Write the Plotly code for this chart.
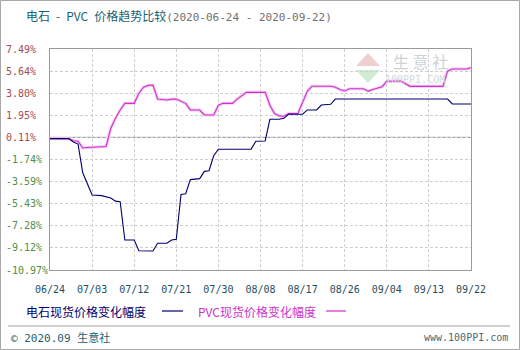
import plotly.graph_objects as go

# ---------------- data ----------------
carbide_dates = ["2020-06-24", "2020-06-28", "2020-06-29", "2020-06-30", "2020-07-01", "2020-07-02",
                 "2020-07-03", "2020-07-05", "2020-07-07", "2020-07-08", "2020-07-09", "2020-07-10",
                 "2020-07-12", "2020-07-13", "2020-07-16", "2020-07-17", "2020-07-19", "2020-07-20",
                 "2020-07-21", "2020-07-22", "2020-07-23", "2020-07-24", "2020-07-26", "2020-07-27",
                 "2020-07-28", "2020-07-29", "2020-07-30", "2020-08-06", "2020-08-07", "2020-08-09",
                 "2020-08-10", "2020-08-12", "2020-08-13", "2020-08-14", "2020-08-17", "2020-08-18",
                 "2020-08-20", "2020-08-21", "2020-08-23", "2020-08-24", "2020-09-17", "2020-09-18",
                 "2020-09-22"]
carbide_values = [0, 0, -0.28, -0.45, -2.85, -3.85,
                  -4.70, -4.76, -4.95, -5.22, -5.26, -8.46,
                  -8.46, -9.36, -9.38, -8.74, -8.74, -8.46,
                  -8.40, -4.67, -4.60, -3.42, -3.34, -2.73,
                  -2.68, -1.43, -0.88, -0.87, -0.22, -0.19,
                  1.62, 1.62, 1.70, 2.04, 2.04, 2.40,
                  2.40, 2.81, 2.87, 3.31, 3.31, 2.90,
                  2.90]

pvc_dates = ["2020-06-24", "2020-06-28", "2020-06-29", "2020-06-30", "2020-07-01", "2020-07-02",
             "2020-07-06", "2020-07-07", "2020-07-08", "2020-07-09", "2020-07-10", "2020-07-12",
             "2020-07-13", "2020-07-14", "2020-07-15", "2020-07-16", "2020-07-17", "2020-07-19",
             "2020-07-20", "2020-07-21", "2020-07-23", "2020-07-24", "2020-07-26", "2020-07-27",
             "2020-07-29", "2020-07-30", "2020-07-31", "2020-08-02", "2020-08-03", "2020-08-04",
             "2020-08-05", "2020-08-09", "2020-08-10", "2020-08-11", "2020-08-12", "2020-08-13",
             "2020-08-14", "2020-08-16", "2020-08-17", "2020-08-18", "2020-08-19", "2020-08-23",
             "2020-08-24", "2020-08-25", "2020-08-26", "2020-08-27", "2020-08-30", "2020-08-31",
             "2020-09-01", "2020-09-02", "2020-09-03", "2020-09-04", "2020-09-07", "2020-09-09",
             "2020-09-16", "2020-09-17", "2020-09-18", "2020-09-21", "2020-09-22"]
pvc_values = [0, 0, -0.17, -0.22, -0.78, -0.74,
              -0.65, 0.87, 1.70, 2.40, 2.95, 2.95,
              3.80, 4.30, 4.45, 4.48, 3.31, 3.23,
              3.30, 3.31, 2.95, 2.40, 2.39, 1.98,
              1.98, 2.80, 2.95, 2.95, 3.30, 3.60,
              3.87, 3.87, 2.80, 2.10, 1.90, 1.87,
              2.10, 2.10, 3.00, 3.95, 4.38, 4.38,
              4.30, 4.10, 3.98, 4.17, 4.17, 3.97,
              4.10, 4.25, 4.34, 4.79, 4.82, 4.37,
              4.37, 5.64, 5.82, 5.82, 5.93]

x_tick_dates = ["2020-06-24", "2020-07-03", "2020-07-12", "2020-07-21", "2020-07-30", "2020-08-08",
                "2020-08-17", "2020-08-26", "2020-09-04", "2020-09-13", "2020-09-22"]
x_tick_labels = ["06/24", "07/03", "07/12", "07/21", "07/30", "08/08",
                 "08/17", "08/26", "09/04", "09/13", "09/22"]
y_tick_values = [7.49, 5.64, 3.80, 1.95, 0.11, -1.74, -3.59, -5.43, -7.28, -9.12, -10.97]

series_names = ["电石现货价格变化幅度", "PVC现货价格变化幅度"]
title_main = "电石 - PVC 价格趋势比较"
title_dates = "(2020-06-24 - 2020-09-22)"

# ---------------- layout geometry (pixels) ----------------
W, H = 520, 350
L, R, T, B = 50, 49, 49, 80
PW, PH = W - L - R, H - T - B


def px(xp):
    return (xp - L) / PW


def py(yp):
    return (H - B - yp) / PH


MONO = "DejaVu Sans Mono, Liberation Mono, monospace"
CJK = "Noto Sans CJK SC, sans-serif"
NAVY = "#000070"
MAG = "#CC33CC"

fig = go.Figure()
# pink halo under PVC line
fig.add_trace(go.Scatter(x=pvc_dates, y=pvc_values, mode="lines",
                         line=dict(color="#F6C8F2", width=3.0), hoverinfo="skip", showlegend=False))
fig.add_trace(go.Scatter(x=pvc_dates, y=pvc_values, mode="lines", name=series_names[1],
                         line=dict(color=MAG, width=1.1), showlegend=False))
fig.add_trace(go.Scatter(x=carbide_dates, y=carbide_values, mode="lines", name=series_names[0],
                         line=dict(color=NAVY, width=1.1), showlegend=False))

fig.update_layout(
    width=W, height=H, autosize=False,
    margin=dict(l=L, r=R, t=T, b=B, pad=0),
    paper_bgcolor="white", plot_bgcolor="white",
    font=dict(family=MONO, size=10, color="#1F4F5F"),
    xaxis=dict(type="date", range=[x_tick_dates[0], x_tick_dates[-1]],
               tickvals=x_tick_dates, ticktext=x_tick_labels,
               tickfont=dict(family=MONO, size=10, color="#1F4F5F"),
               showgrid=True, gridcolor="#CFCFCF", griddash="3px,2px", gridwidth=1,
               showline=True, mirror=True, linecolor="#9A9A9A", linewidth=1,
               ticks="", ticklabelstandoff=10, zeroline=False, fixedrange=True),
    yaxis=dict(range=[y_tick_values[-1], y_tick_values[0]], tickvals=y_tick_values,
               showticklabels=False, showgrid=True, gridcolor="#CFCFCF", griddash="3px,2px",
               gridwidth=1, showline=True, mirror=True, linecolor="#9A9A9A", linewidth=1,
               ticks="", zeroline=False, fixedrange=True),
)

shapes = []
# baseline
shapes.append(dict(type="line", xref="paper", yref="y", x0=0, x1=1,
                   y0=y_tick_values[4], y1=y_tick_values[4],
                   line=dict(color="#8A8A8A", width=1), layer="below"))
# outer frame
shapes.append(dict(type="rect", xref="paper", yref="paper", x0=px(0.5), x1=px(W - 0.5),
                   y0=py(H - 0.5), y1=py(0.5), line=dict(color="#A8A8A8", width=1)))
# footer separator
shapes.append(dict(type="line", xref="paper", yref="paper", x0=px(8), x1=px(510),
                   y0=py(326), y1=py(326), line=dict(color="#A0A0A0", width=1)))
# legend lines
shapes.append(dict(type="line", xref="paper", yref="paper", x0=px(162), x1=px(183),
                   y0=py(311), y1=py(311), line=dict(color=NAVY, width=1.2)))
shapes.append(dict(type="line", xref="paper", yref="paper", x0=px(326), x1=px(346),
                   y0=py(311), y1=py(311), line=dict(color=MAG, width=1.2)))


# watermark logo (light diamond: red top, green bottom)
def ppath(points):
    return "M " + " L ".join(f"{px(a):.5f},{py(b):.5f}" for a, b in points) + " Z"


shapes.append(dict(type="path", xref="paper", yref="paper",
                   path=ppath([(368, 53), (356, 66), (380, 66)]),
                   fillcolor="#F2CFCF", line=dict(width=0), layer="below"))
shapes.append(dict(type="path", xref="paper", yref="paper",
                   path=ppath([(356, 70), (380, 70), (368, 83)]),
                   fillcolor="#CFEBD2", line=dict(width=0), layer="below"))
fig.update_layout(shapes=shapes)

ann = []
# y tick labels, left aligned
for v in y_tick_values:
    col = "#A44A58" if v > 0 else "#4E8E4E"
    ann.append(dict(xref="paper", yref="y", x=px(4), y=v, xanchor="left", yanchor="middle",
                    text=f"{v:.2f}%", showarrow=False,
                    font=dict(family=MONO, size=10, color=col)))
# title (wide spaces to mimic the original bitmap font spacing)
title_render = title_main.replace(" ", "\u2002")
ann.append(dict(xref="paper", yref="paper", x=px(24), y=py(15), xanchor="left", yanchor="middle",
                showarrow=False,
                text=f"<span style='color:#1A5F70;font-family:Noto Sans CJK SC;font-size:12px'>{title_render}</span>"
                     f"<span style='color:#707070;font-family:DejaVu Sans Mono;font-size:11px'>{title_dates}</span>",
                font=dict(family=CJK, size=12)))
# legend texts
ann.append(dict(xref="paper", yref="paper", x=px(24), y=py(311), xanchor="left", yanchor="middle",
                showarrow=False, text=series_names[0], font=dict(family=CJK, size=12, color=NAVY)))
ann.append(dict(xref="paper", yref="paper", x=px(196), y=py(311), xanchor="left", yanchor="middle",
                showarrow=False, text=series_names[1], font=dict(family=CJK, size=12, color=MAG)))
# footer
ann.append(dict(xref="paper", yref="paper", x=px(9), y=py(337), xanchor="left", yanchor="middle",
                showarrow=False,
                text="<span style='font-family:DejaVu Sans Mono'>© 2020.09 </span>生意社",
                font=dict(family=CJK, size=11, color="#1F5F6A")))
ann.append(dict(xref="paper", yref="paper", x=px(510), y=py(337), xanchor="right", yanchor="middle",
                showarrow=False, text="www.100PPI.com",
                font=dict(family=MONO, size=10, color="#4A6A7A")))
# watermark text
ann.append(dict(xref="paper", yref="paper", x=px(420), y=py(61), xanchor="center", yanchor="middle",
                showarrow=False, text="生 意 社", font=dict(family=CJK, size=16, color="#CDD3D6")))
ann.append(dict(xref="paper", yref="paper", x=px(415), y=py(79), xanchor="center", yanchor="middle",
                showarrow=False, text="100PPI.COM", font=dict(family=MONO, size=10, color="#D4D8DA")))
fig.update_layout(annotations=ann)

fig.write_html("out.html")
